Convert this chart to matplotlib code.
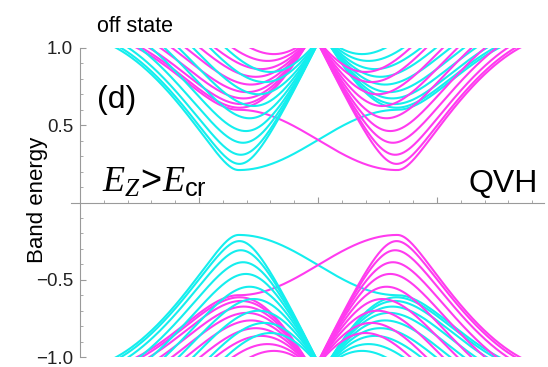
import numpy as np
import matplotlib.pyplot as plt

plt.rcParams['font.family'] = ['Liberation Sans', 'DejaVu Sans']
plt.rcParams['mathtext.fontset'] = 'custom'
plt.rcParams['mathtext.it'] = 'Liberation Serif:italic'
plt.rcParams['mathtext.rm'] = 'Liberation Sans'

# values: k in units of pi, energy in units of t
valley_k = [0.667, 1.333]      # K and K' positions
gap_small = 0.21               # cyan band edge at K (magenta at K')
gap_large = 0.60               # cyan band edge at K' (magenta at K)
cyan_K_edges = [0.25, 0.31, 0.39, 0.47, 0.56, 0.65, 0.74, 0.84, 0.93]  # subband bottoms at K
k_range = [0.10, 1.90]
y_major = [-1.0, -0.5, 0.5, 1.0]
y_labels = ['\u22121.0', '\u22120.5', '0.5', '1.0']

cyan = '#14EEEE'
magenta = '#FF3BEF'

# staggered potential and spin-orbit mass from the two gaps
dz = (gap_small + gap_large) / 2
so = (gap_large - gap_small) / 2
lam = so / (3 * np.sqrt(3))
b = 2 * np.sqrt(3) * lam


def band(A, kk):
    # zigzag-ribbon subband with transverse parameter A and a k-dependent mass
    c = np.cos(np.pi * kk / 2)
    ca = np.abs(c)
    e2 = (2 * ca - 1) ** 2 + 4 * ca * A
    f = 2 * np.sin(np.pi * kk) + 4 * np.sin(np.pi * kk / 2) * np.sign(c) * (1 - A)
    m = dz - lam * f
    return np.sqrt(e2 + m ** 2)


def edge_band(kk):
    E = band(0.0, kk)
    mid = (kk >= valley_k[0]) & (kk <= valley_k[1])
    E[mid] = dz - so * np.cos(np.pi * (kk[mid] - valley_k[0]) / (valley_k[1] - valley_k[0]))
    return E


# transverse parameter of each subband from its band bottom at K
A_list = []
for E0 in cyan_K_edges:
    qa, qb, qc = b ** 2, 2 + 2 * gap_small * b, gap_small ** 2 - E0 ** 2
    A_list.append((-qb + np.sqrt(qb ** 2 - 4 * qa * qc)) / (2 * qa))

k = np.linspace(k_range[0], k_range[1], 4000)

fig = plt.figure(figsize=(5.48, 3.67), dpi=100)
ax = fig.add_axes([70.5 / 548, 10 / 367, 473.6 / 548, 309 / 367])

lw = 1.5
for s in (1, -1):
    ax.plot(k, s * edge_band(k), color=cyan, lw=lw)
    ax.plot(k, s * edge_band(2 - k), color=magenta, lw=lw)
    for A in A_list:
        ax.plot(k, s * band(A, 2 - k), color=magenta, lw=lw)
        ax.plot(k, s * band(A, k), color=cyan, lw=lw)

ax.set_xlim(-0.04, 1.95)
ax.set_ylim(-1, 1)

for side in ['top', 'right']:
    ax.spines[side].set_visible(False)
ax.spines['left'].set_position(('data', 0))
ax.spines['bottom'].set_position(('data', 0))
for side in ['left', 'bottom']:
    ax.spines[side].set_color('#9a9a9a')
    ax.spines[side].set_linewidth(0.8)

ax.set_yticks(y_major)
ax.set_yticklabels(y_labels)
ax.set_yticks([v / 10 for v in range(-9, 10) if v not in (-5, 0, 5)], minor=True)
ax.set_xticks([0.5, 1.0, 1.5])
ax.set_xticks([v / 10 for v in range(1, 20) if v not in (5, 10, 15)], minor=True)
ax.set_xticklabels([])
ax.tick_params(axis='both', which='major', direction='in', length=4, width=0.8,
               color='#9a9a9a', labelsize=13.5, labelcolor='#222222', pad=5)
ax.tick_params(axis='both', which='minor', direction='in', length=2.5, width=0.6,
               color='#9a9a9a')

fig.text(97 / 548, 1 - 32 / 367, 'off state', fontsize=15.5, va='baseline')
fig.text(97 / 548, 1 - 108 / 367, '(d)', fontsize=23, va='baseline')
fig.text(102 / 548, 1 - 192 / 367, r'$E_Z\!>\!E_{\mathrm{cr}}$', fontsize=26, va='baseline')
fig.text(468 / 548, 1 - 192 / 367, 'QVH', fontsize=23, va='baseline')
fig.text(37 / 548, 1 - 200 / 367, 'Band energy', fontsize=16, rotation=90,
         ha='center', va='center')

fig.savefig('out.png', dpi=100)
